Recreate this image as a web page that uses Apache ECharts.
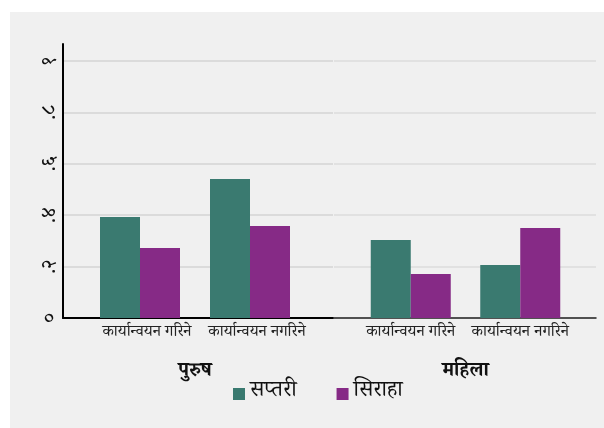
<!DOCTYPE html>
<html>
<head>
<meta charset="utf-8">
<script src="https://cdn.jsdelivr.net/npm/echarts@6/dist/echarts.min.js"></script>
<style>
html,body{margin:0;padding:0;background:#ffffff;}
#chart{position:absolute;left:10px;top:12px;width:594px;height:416px;background:#f0f0f0;}
</style>
</head>
<body>
<div id="chart"></div>
<script>
// ---- data ----
const categories = ['कार्यान्वयन गरिने', 'कार्यान्वयन नगरिने'];
const groups = ['पुरुष', 'महिला'];
const seriesNames = ['सप्तरी', 'सिराहा'];
const purushSaptari = [0.393, 0.541];
const purushSiraha = [0.272, 0.358];
const mahilaSaptari = [0.303, 0.206];
const mahilaSiraha = [0.171, 0.350];
const yTickValues = [0, 0.2, 0.4, 0.6, 0.8, 1];
const yTickLabels = ['०', '.२', '.४', '.६', '.८', '१'];

// ---- style ----
const FONT = '"Noto Serif Devanagari","Noto Sans Devanagari","Lohit Devanagari",serif';
const TEAL = '#3a7a70';
const PURPLE = '#862a86';
const YMAX = 1.066;
const OX = -10, OY = -12; // chart div offset

function tickLabel(v) {
  for (let i = 0; i < yTickValues.length; i++) {
    if (Math.abs(v - yTickValues[i]) < 1e-6) return yTickLabels[i];
  }
  return '';
}
const gridColors1 = ['#d4d4d4','#d4d4d4','#d4d4d4','#d4d4d4','#d4d4d4','#d4d4d4','rgba(0,0,0,0)'];
const gridColors2 = ['#dcdcdc','#dcdcdc','#dcdcdc','#dcdcdc','#dcdcdc','#dcdcdc','rgba(0,0,0,0)'];

const chart = echarts.init(document.getElementById('chart'), null, {renderer: 'canvas'});
const gTop = 44 + OY, gH = 274;
const xLabel1 = {fontSize: 16, color: '#222', margin: 8, interval: 0, fontFamily: FONT, padding: [0, 0, 0, 14]};
const xLabel2 = {fontSize: 16, color: '#222', margin: 8, interval: 0, fontFamily: FONT};
const xName = {fontSize: 20, fontWeight: 'bold', color: '#111', fontFamily: FONT};
const option = {
  animation: false,
  textStyle: {fontFamily: FONT},
  grid: [
    {left: 63 + OX, top: gTop, width: 270, height: gH},
    {left: 85 + OX, top: gTop, width: 220, height: gH},
    {left: 334 + OX, top: gTop, width: 262, height: gH},
    {left: 356 + OX, top: gTop, width: 219, height: gH}
  ],
  legend: {
    data: seriesNames,
    left: 233 + OX,
    top: 383 + OY,
    padding: 0,
    itemWidth: 12, itemHeight: 12, itemGap: 40,
    icon: 'rect',
    textStyle: {fontSize: 22, color: '#111', fontFamily: FONT}
  },
  xAxis: [
    {gridIndex: 0, type: 'category', data: [''], axisTick: {show: false}, axisLabel: {show: false},
     axisLine: {lineStyle: {color: '#000', width: 2}}, splitLine: {show: false}},
    {gridIndex: 1, type: 'category', data: categories, axisTick: {show: false}, axisLine: {show: false},
     axisLabel: xLabel1, name: groups[0], nameLocation: 'middle', nameGap: 46, nameTextStyle: xName},
    {gridIndex: 2, type: 'category', data: [''], axisTick: {show: false}, axisLabel: {show: false},
     axisLine: {lineStyle: {color: '#222', width: 1.5}}, splitLine: {show: false}},
    {gridIndex: 3, type: 'category', data: categories, axisTick: {show: false}, axisLine: {show: false},
     axisLabel: xLabel2, name: groups[1], nameLocation: 'middle', nameGap: 46, nameTextStyle: xName}
  ],
  yAxis: [
    {gridIndex: 0, type: 'value', min: 0, max: YMAX, interval: 0.2,
     axisLine: {show: true, lineStyle: {color: '#000', width: 2}},
     axisTick: {show: false},
     axisLabel: {rotate: 90, fontSize: 20, color: '#111', margin: 0, formatter: tickLabel, fontFamily: FONT},
     splitLine: {show: true, lineStyle: {color: gridColors1, width: 1.5}}},
    {gridIndex: 1, type: 'value', min: 0, max: YMAX, show: false, splitLine: {show: false}},
    {gridIndex: 2, type: 'value', min: 0, max: YMAX, interval: 0.2,
     axisLine: {show: false}, axisTick: {show: false}, axisLabel: {show: false},
     splitLine: {show: true, lineStyle: {color: gridColors2, width: 1.5}}},
    {gridIndex: 3, type: 'value', min: 0, max: YMAX, show: false, splitLine: {show: false}}
  ],
  series: [
    {name: seriesNames[0], type: 'bar', xAxisIndex: 1, yAxisIndex: 1, data: purushSaptari,
     barWidth: 40, barGap: '0%', itemStyle: {color: TEAL}},
    {name: seriesNames[1], type: 'bar', xAxisIndex: 1, yAxisIndex: 1, data: purushSiraha,
     barWidth: 40, barGap: '0%', itemStyle: {color: PURPLE}},
    {name: seriesNames[0], type: 'bar', xAxisIndex: 3, yAxisIndex: 3, data: mahilaSaptari,
     barWidth: 40, barGap: '0%', itemStyle: {color: TEAL}},
    {name: seriesNames[1], type: 'bar', xAxisIndex: 3, yAxisIndex: 3, data: mahilaSiraha,
     barWidth: 40, barGap: '0%', itemStyle: {color: PURPLE}}
  ]
};
chart.setOption(option);
</script>
</body>
</html>
